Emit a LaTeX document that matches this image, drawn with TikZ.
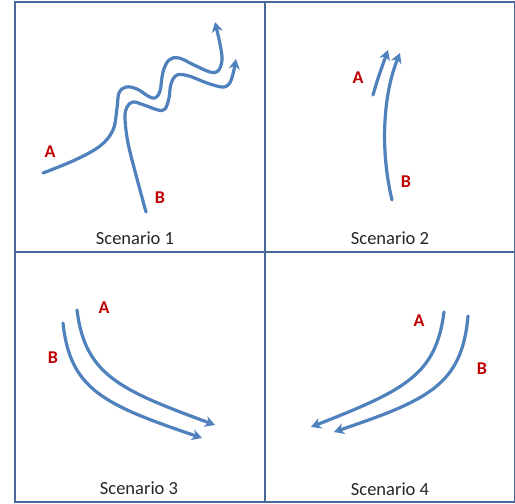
\documentclass[tikz,border=0pt]{standalone}
\usepackage{fontspec}
\setmainfont{Carlito}
\usetikzlibrary{arrows.meta}
\definecolor{gridc}{HTML}{4A6A9C}
\definecolor{flow}{HTML}{4F81BD}
\definecolor{lbl}{HTML}{C00000}
\tikzset{
  gridline/.style={draw=gridc, line width=2.4pt},
  flowline/.style={draw=flow, line width=3.2pt, line cap=round,
    -{Stealth[length=10pt,width=11pt,inset=3pt]}},
  lab/.style={text=lbl, font=\fontsize{18}{20}\selectfont\bfseries, inner sep=0pt},
  scencap/.style={font=\fontsize{18.5}{21}\selectfont, inner sep=0pt, text=black!85}
}
\begin{document}
\begin{tikzpicture}[x=1pt,y=-1pt]
\useasboundingbox (0,0) rectangle (515,504);
\fill[white] (0,0) rectangle (515,504);
% grid
\draw[gridline] (15,2) rectangle (515,502);
\draw[gridline] (265,2) -- (265,502);
\draw[gridline] (15,252) -- (515,252);
% scenario 1
\draw[flowline] plot[smooth, tension=0.6] coordinates {(43,173) (75,160) (100,146) (113,130) (117,108) (119,93) (126,87) (137,89) (148,96) (155,98) (160,91) (163,72) (169,60) (179,58) (194,65) (210,72) (218,71) (222,60) (220,44) (215,22)};
\draw[flowline] plot[smooth, tension=0.6] coordinates {(146,212) (136,175) (128,143) (125,118) (127,107) (133,102) (144,105) (158,110) (165,109) (169,98) (171,84) (177,75) (189,76) (207,83) (222,87) (229,84) (233,74) (236,59)};
\node[lab] (a1) at (50,152) {A};
\node[lab] (b1) at (160,198) {B};
\node[scencap] (s1) at (135,238) {Scenario 1};
% scenario 2
\draw[flowline] (373,95) .. controls (378,78) .. (388,50);
\draw[flowline] (392,200) .. controls (380,150) and (383,95) .. (400,53);
\node[lab] (a2) at (358,78) {A};
\node[lab] (b2) at (406,182) {B};
\node[scencap] (s2) at (390,238) {Scenario 2};
% scenario 3
\draw[flowline] (77,310) .. controls (85,375) and (120,390) .. (215,425);
\draw[flowline] (63,323) .. controls (70,390) and (105,405) .. (202,438);
\node[lab] (a3) at (104,308) {A};
\node[lab] (b3) at (53,358) {B};
\node[scencap] (s3) at (139,488) {Scenario 3};
% scenario 4
\draw[flowline] (444,312) .. controls (436,375) and (405,390) .. (311,427);
\draw[flowline] (468,316) .. controls (462,385) and (428,400) .. (334,432);
\node[lab] (a4) at (419,321) {A};
\node[lab] (b4) at (482,369) {B};
\node[scencap] (s4) at (390,489) {Scenario 4};
\end{tikzpicture}
\end{document}
